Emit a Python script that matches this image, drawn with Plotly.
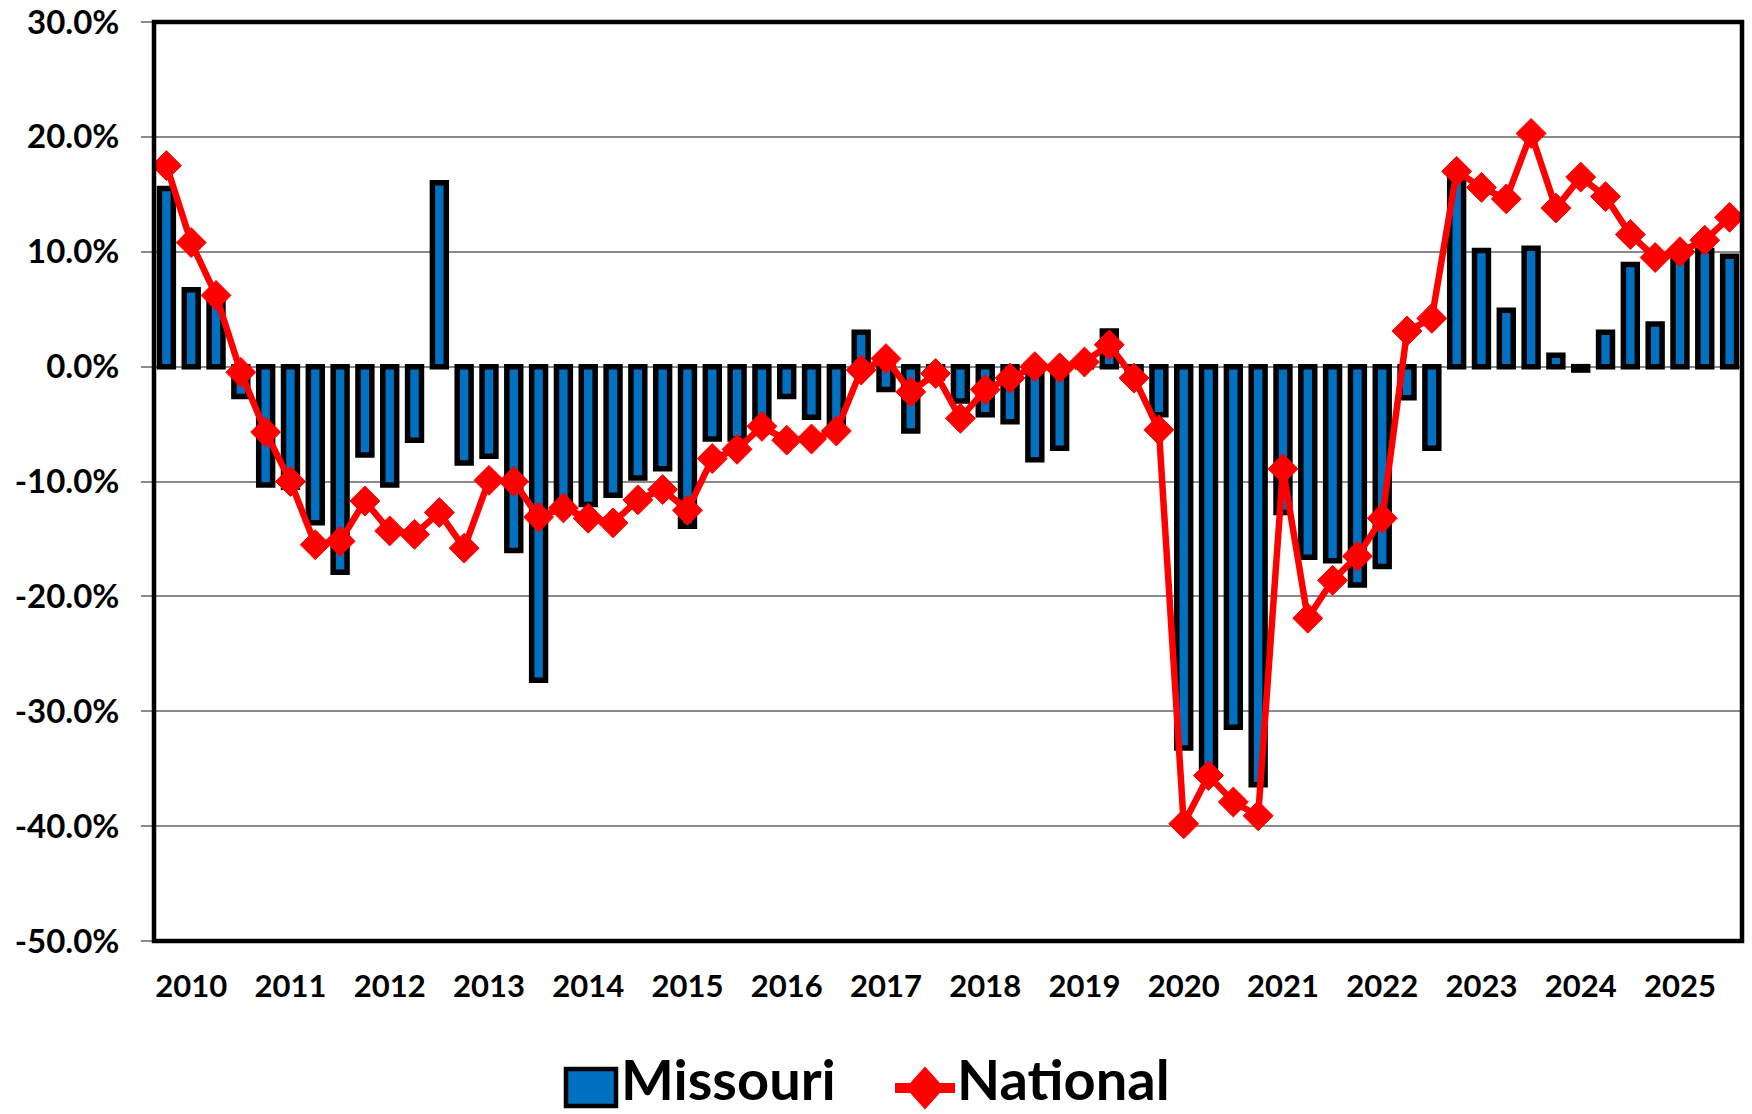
import plotly.graph_objects as go

# ---------------- data ----------------
years = list(range(2010, 2026))
quarters = ["Q1", "Q2", "Q3", "Q4"]
categories = [f"{y} {q}" for y in years for q in quarters]

missouri = [
    15.5, 6.7, 6.0, -2.6,
    -10.3, -10.5, -13.6, -17.9,
    -7.7, -10.3, -6.4, 16.0,
    -8.4, -7.8, -16.0, -27.3,
    -12.5, -12.0, -11.2, -9.7,
    -8.9, -13.9, -6.3, -6.3,
    -4.8, -2.6, -4.4, -4.9,
    3.0, -2.0, -5.6, -1.0,
    -3.0, -4.2, -4.8, -8.1,
    -7.1, 0.5, 3.1, -1.0,
    -4.2, -33.2, -35.5, -31.4,
    -36.4, -12.7, -16.6, -16.9,
    -19.0, -17.4, -2.7, -7.1,
    16.5, 10.1, 4.9, 10.3,
    1.0, -0.3, 3.0, 8.9,
    3.7, 9.8, 10.1, 9.6,
]

national = [
    17.5, 10.8, 6.2, -0.5,
    -5.7, -10.0, -15.5, -15.2,
    -11.7, -14.3, -14.6, -12.7,
    -15.8, -9.9, -10.0, -13.1,
    -12.3, -13.2, -13.6, -11.6,
    -10.7, -12.5, -8.0, -7.2,
    -5.2, -6.4, -6.3, -5.6,
    -0.3, 0.7, -2.2, -0.6,
    -4.5, -2.0, -1.0, 0.0,
    -0.1, 0.4, 1.9, -1.0,
    -5.5, -39.8, -35.6, -37.9,
    -39.1, -8.9, -21.9, -18.6,
    -16.5, -13.2, 3.1, 4.2,
    17.0, 15.6, 14.6, 20.3,
    13.8, 16.5, 14.8, 11.5,
    9.5, 10.0, 11.0, 13.0,
]

y_tick_vals = [30, 20, 10, 0, -10, -20, -30, -40, -50]
y_tick_text = [f"{v:.1f}%" for v in y_tick_vals]
x_tick_vals = [f"{y} Q2" for y in years]
x_tick_text = [str(y) for y in years]

series_names = ["Missouri", "National"]

# ---------------- style ----------------
BLUE = "#0070C0"
RED = "#FF0000"
GRAY = "#8A8A8A"
FONT = "Lato"

W, H = 1752, 1114
ML, MR, MT, MB = 154, 10, 22, 173
PW, PH = W - ML - MR, H - MT - MB


def px_x(p):
    return (p - ML) / PW


def px_y(p):
    return (H - MB - p) / PH


fig = go.Figure()

fig.add_trace(go.Bar(
    x=categories, y=missouri, name=series_names[0],
    marker=dict(color=BLUE, line=dict(color="black", width=5.5)),
    showlegend=False,
))

fig.add_trace(go.Scatter(
    x=categories, y=national, name=series_names[1], mode="lines+markers",
    line=dict(color=RED, width=6.5),
    marker=dict(symbol="diamond", size=23, color=RED, line=dict(color=RED, width=1)),
    showlegend=False,
))

n = len(categories)
fig.update_layout(
    width=W, height=H,
    margin=dict(l=ML, r=MR, t=MT, b=MB, autoexpand=False),
    plot_bgcolor="white", paper_bgcolor="white",
    bargap=0.44,
    font=dict(family=FONT, color="black"),
    xaxis=dict(
        type="category", categoryorder="array", categoryarray=categories,
        range=[-0.5, n - 0.5], automargin=False,
        tickmode="array", tickvals=x_tick_vals, ticktext=x_tick_text,
        ticks="", showgrid=False, showline=False, zeroline=False,
        tickfont=dict(family=FONT, size=31, weight="bold", color="black"),
        ticklabelstandoff=24, ticklabeloverflow="allow",
    ),
    xaxis2=dict(
        overlaying="x", anchor="free", position=50 / 80, side="bottom",
        range=[-0.5, n - 0.5], tickmode="array", automargin=False,
        tickvals=[i - 0.5 for i in range(n + 1)],
        ticks="outside", ticklen=10, tickwidth=2, tickcolor=GRAY,
        showline=True, linecolor=GRAY, linewidth=2,
        showticklabels=False, showgrid=False, zeroline=False,
        layer="below traces",
    ),
    yaxis=dict(
        range=[-50, 30], tickmode="array", tickvals=y_tick_vals, ticktext=y_tick_text,
        automargin=False,
        showgrid=True, gridcolor=GRAY, gridwidth=1.6,
        zeroline=False, showline=False,
        ticks="outside", ticklen=12, tickwidth=2, tickcolor=GRAY,
        tickfont=dict(family=FONT, size=33, weight="bold", color="black"),
        ticklabelstandoff=15, ticklabeloverflow="allow",
    ),
)

shapes = [
    dict(type="rect", xref="paper", yref="paper", x0=0, x1=1, y0=0, y1=1,
         line=dict(color="black", width=4.5), fillcolor="rgba(0,0,0,0)", layer="above"),
    # legend: Missouri box
    dict(type="rect", xref="paper", yref="paper",
         x0=px_x(566), x1=px_x(616), y0=px_y(1106), y1=px_y(1069),
         line=dict(color="black", width=4.5), fillcolor=BLUE),
    # legend: National line + diamond
    dict(type="line", xref="paper", yref="paper",
         x0=px_x(895), x1=px_x(955), y0=px_y(1088), y1=px_y(1088),
         line=dict(color=RED, width=10)),
    dict(type="path", xref="paper", yref="paper",
         path=(f"M {px_x(925)},{px_y(1068)} L {px_x(943)},{px_y(1088)} "
               f"L {px_x(925)},{px_y(1108)} L {px_x(907)},{px_y(1088)} Z"),
         line=dict(color=RED, width=2), fillcolor=RED),
]
fig.update_layout(shapes=shapes)

annotations = [
    dict(xref="paper", yref="paper", x=px_x(619), y=px_y(1078), text=series_names[0],
         showarrow=False, xanchor="left", yanchor="middle",
         font=dict(family=FONT, size=56, weight="bold", color="black")),
    dict(xref="paper", yref="paper", x=px_x(955), y=px_y(1078), text=series_names[1],
         showarrow=False, xanchor="left", yanchor="middle",
         font=dict(family=FONT, size=56, weight="bold", color="black")),
]
fig.update_layout(annotations=annotations)

fig.write_html(
    "out.html",
    config={"displayModeBar": False},
    post_script="document.body.style.margin='0';",
)
